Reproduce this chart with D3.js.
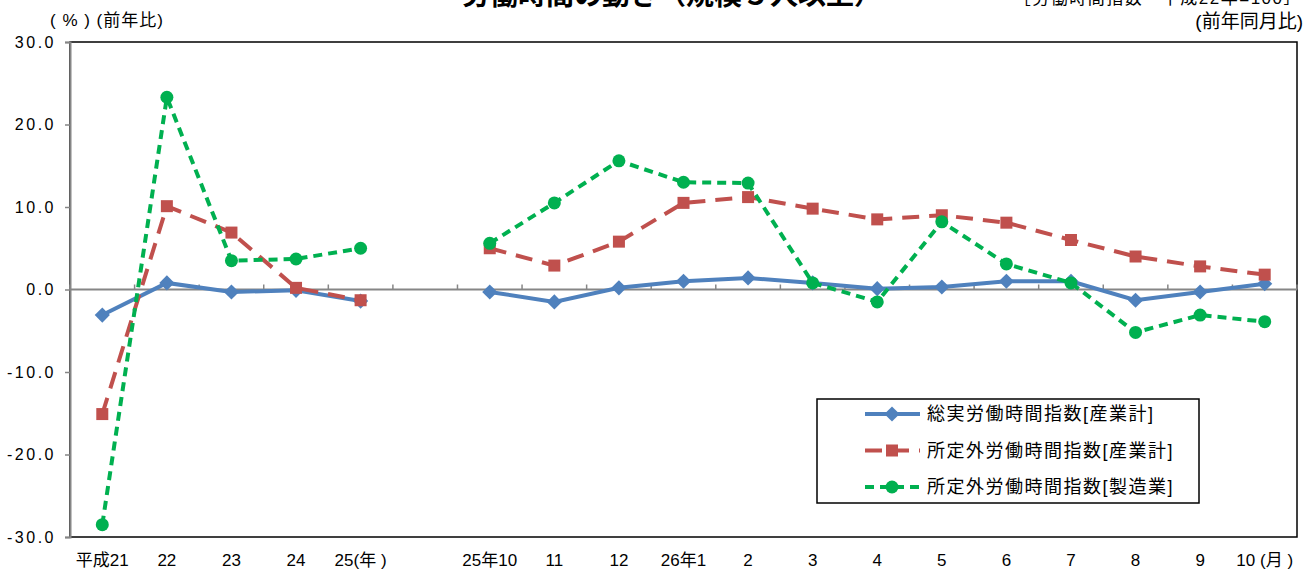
<!DOCTYPE html>
<html>
<head>
<meta charset="utf-8">
<script src="https://cdn.jsdelivr.net/npm/d3@7"></script>
<style>
  body { margin: 0; background: #fff; }
  svg { display: block; font-family: "Liberation Sans", Arial, "Noto Sans CJK JP", sans-serif; }
</style>
</head>
<body>
<svg id="chart" width="1316" height="571"></svg>
<script>
// categories (index 5 is the empty gap between annual and monthly data)
var categories = ["平成21", "22", "23", "24", "25(年 )", "", "25年10", "11", "12", "26年1", "2", "3", "4", "5", "6", "7", "8", "9", "10 (月 )"];

// series values (前年比 / 前年同月比, %)
var totalHours = [-3.1, 0.8, -0.3, -0.1, -1.4, null, -0.3, -1.5, 0.2, 1.0, 1.4, 0.8, 0.1, 0.3, 1.0, 1.0, -1.3, -0.3, 0.7];
var overtimeAll = [-15.1, 10.1, 6.9, 0.2, -1.3, null, 5.0, 2.9, 5.8, 10.5, 11.2, 9.8, 8.5, 9.0, 8.1, 6.0, 4.0, 2.8, 1.8];
var overtimeMfg = [-28.5, 23.3, 3.5, 3.7, 5.0, null, 5.6, 10.5, 15.6, 13.0, 12.9, 0.8, -1.5, 8.2, 3.1, 0.8, -5.2, -3.1, -3.9];

var yTicks = [30, 20, 10, 0, -10, -20, -30];
var seriesNames = ["総実労働時間指数[産業計]", "所定外労働時間指数[産業計]", "所定外労働時間指数[製造業]"];

var series = [
  { name: seriesNames[0], values: totalHours, color: "#4F81BD", dash: null, marker: "diamond" },
  { name: seriesNames[1], values: overtimeAll, color: "#C0504D", dash: "17,10", marker: "square" },
  { name: seriesNames[2], values: overtimeMfg, color: "#00B050", dash: "9,6", marker: "circle" }
];

var plotLeft = 70, plotRight = 1297, plotTop = 42, plotBottom = 537;

var svg = d3.select('#chart');

var x = d3.scaleBand()
    .domain(categories)
    .range([plotLeft, plotRight])
    .padding(0);

var y = d3.scaleLinear()
    .domain([-30, 30])
    .range([plotBottom, plotTop]);

function cx(i) { return x(categories[i]) + x.bandwidth() / 2; }

// plot area frame
svg.append('rect')
    .attr('x', plotLeft).attr('y', plotTop)
    .attr('width', plotRight - plotLeft).attr('height', plotBottom - plotTop)
    .attr('fill', 'none')
    .attr('stroke', '#000')
    .attr('stroke-width', 1.5);

// zero line with category tick marks
svg.append('line')
    .attr('x1', plotLeft).attr('x2', plotRight)
    .attr('y1', y(0)).attr('y2', y(0))
    .attr('stroke', '#868686')
    .attr('stroke-width', 2);

var bounds = categories.map(function(c) { return x(c); }).concat([plotRight]);
svg.selectAll('.xtick')
    .data(bounds)
    .enter()
    .append('line')
    .attr('class', 'xtick')
    .attr('x1', function(d) { return d; })
    .attr('x2', function(d) { return d; })
    .attr('y1', y(0))
    .attr('y2', y(0) - 5)
    .attr('stroke', '#868686')
    .attr('stroke-width', 1.5);

// y axis (plain hyphen for negatives, like the original)
var yAxis = d3.axisLeft(y)
    .tickValues(yTicks)
    .tickSize(5)
    .tickPadding(9)
    .tickFormat(function(d) { return d.toFixed(1); });

var gy = svg.append('g')
    .attr('transform', 'translate(' + plotLeft + ',0)')
    .call(yAxis);
gy.select('.domain').attr('stroke', '#868686').attr('stroke-width', 2);
gy.selectAll('.tick line').attr('stroke', '#868686').attr('stroke-width', 1.5);
gy.selectAll('.tick text')
    .attr('font-size', 16)
    .attr('fill', '#000')
    .attr('letter-spacing', 2.5)
    .attr('font-family', '"Liberation Sans", Arial, sans-serif');

// x labels
svg.selectAll('.xlabel')
    .data(categories)
    .enter()
    .append('text')
    .attr('class', 'xlabel')
    .attr('x', function(d, i) { return cx(i); })
    .attr('y', 566)
    .attr('text-anchor', 'middle')
    .attr('font-size', 17)
    .text(function(d) { return d; });

// lines
var line = d3.line()
    .defined(function(d) { return d != null; })
    .x(function(d, i) { return cx(i); })
    .y(function(d) { return y(d); });

function drawMarker(g, type, color, px, py) {
  if (type == 'diamond') {
    g.append('path')
      .attr('d', d3.symbol().type(d3.symbolSquare).size(115)())
      .attr('transform', 'translate(' + px + ',' + py + ') rotate(45)')
      .attr('fill', color);
  } else if (type == 'square') {
    g.append('rect')
      .attr('x', px - 6).attr('y', py - 6)
      .attr('width', 12).attr('height', 12)
      .attr('fill', color);
  } else {
    g.append('circle')
      .attr('cx', px).attr('cy', py)
      .attr('r', 6.5)
      .attr('fill', color);
  }
}

series.forEach(function(s) {
  var g = svg.append('g');
  g.append('path')
    .datum(s.values)
    .attr('d', line)
    .attr('fill', 'none')
    .attr('stroke', s.color)
    .attr('stroke-width', 4)
    .attr('stroke-dasharray', s.dash);
  s.values.forEach(function(v, i) {
    if (v == null) return;
    drawMarker(g, s.marker, s.color, cx(i), y(v));
  });
});

// legend
var lg = svg.append('g');
lg.append('rect')
    .attr('x', 817).attr('y', 399)
    .attr('width', 382).attr('height', 104)
    .attr('fill', '#fff')
    .attr('stroke', '#000')
    .attr('stroke-width', 1.5);

series.forEach(function(s, i) {
  var ly = 414 + i * 36.5;
  lg.append('line')
    .attr('x1', 865).attr('x2', 920)
    .attr('y1', ly).attr('y2', ly)
    .attr('stroke', s.color)
    .attr('stroke-width', 4)
    .attr('stroke-dasharray', s.dash);
  drawMarker(lg, s.marker, s.color, 892, ly);
  lg.append('text')
    .attr('x', 927)
    .attr('y', ly)
    .attr('dy', '0.36em')
    .attr('font-size', 18)
    .attr('letter-spacing', 1.5)
    .text(s.name);
});

// titles
svg.append('text')
    .attr('x', 672).attr('y', 5)
    .attr('text-anchor', 'middle')
    .attr('font-size', 28)
    .attr('font-weight', 'bold')
    .text('労働時間の動き（規模５人以上）');

svg.append('text')
    .attr('x', 1302).attr('y', 4)
    .attr('text-anchor', 'end')
    .attr('font-size', 17)
    .attr('letter-spacing', 1.5)
    .text('［労働時間指数　平成22年=100］');

svg.append('text')
    .attr('x', 1303).attr('y', 28)
    .attr('text-anchor', 'end')
    .attr('font-size', 19)
    .text('(前年同月比)');

svg.append('text')
    .attr('x', 50).attr('y', 26)
    .attr('font-size', 17)
    .attr('letter-spacing', 1)
    .text('( % ) (前年比)');
</script>
</body>
</html>
